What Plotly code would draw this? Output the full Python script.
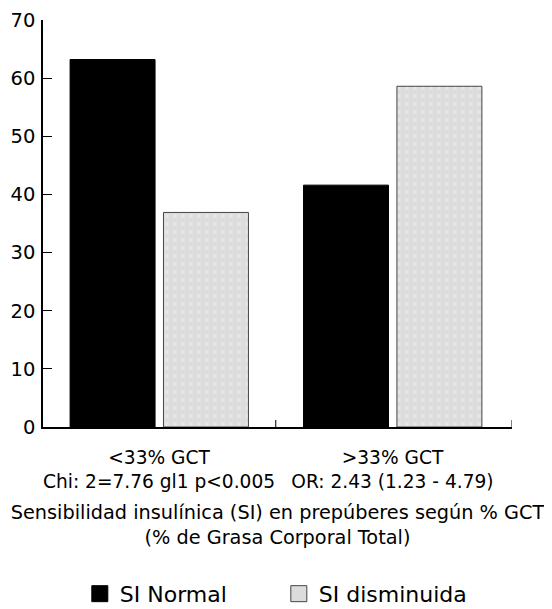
import plotly.graph_objects as go

categories = ["<33% GCT<br>Chi: 2=7.76 gl1 p<0.005", ">33% GCT<br>OR: 2.43 (1.23 - 4.79)"]
si_normal = [63.2, 41.6]
si_disminuida = [36.9, 58.6]
yticks = [0, 10, 20, 30, 40, 50, 60, 70]

FONT = "DejaVu Sans, sans-serif"
xpos = [0, 1]
GRAY = "#dcdcdc"

fig = go.Figure()
fig.add_trace(go.Bar(
    x=xpos, y=si_normal, name="SI Normal", showlegend=False,
    width=0.364, offset=-0.381,
    marker=dict(color="black", line=dict(color="black", width=1)),
))
fig.add_trace(go.Bar(
    x=xpos, y=si_disminuida, name="SI disminuida", showlegend=False,
    width=0.364, offset=0.019,
    marker=dict(color=GRAY, line=dict(color="#444444", width=1),
                pattern=dict(shape=".", fgcolor="#f0f0f0", bgcolor=GRAY, size=8, solidity=0.2)),
))
# legend entries with larger square symbols
fig.add_trace(go.Scatter(
    x=[None], y=[None], mode="markers", name="SI Normal",
    marker=dict(symbol="square", size=16, color="black", line=dict(color="black", width=1)),
))
fig.add_trace(go.Scatter(
    x=[None], y=[None], mode="markers", name="SI disminuida",
    marker=dict(symbol="square", size=16, color=GRAY, line=dict(color="#444444", width=1)),
))

fig.update_layout(
    width=552, height=609,
    margin=dict(l=35, r=48, t=12, b=190),
    paper_bgcolor="white", plot_bgcolor="white",
    barmode="overlay",
    font=dict(family=FONT, size=18, color="black"),
    showlegend=True,
    legend=dict(orientation="h", x=0.0785, xanchor="left",
                yref="container", y=0.038, yanchor="middle",
                font=dict(size=22), itemwidth=30, entrywidth=154,
                itemsizing="trace"),
    xaxis=dict(
        automargin=False,
        range=[-0.497, 1.512], tickmode="array", tickvals=xpos, ticktext=categories,
        showline=True, linecolor="black", linewidth=1.5,
        ticks="", showgrid=False, zeroline=False,
        tickfont=dict(size=18.6), ticklabelstandoff=13,
        title=dict(text="Sensibilidad insulínica (SI) en prepúberes según % GCT<br>(% de Grasa Corporal Total)",
                   font=dict(size=19.3), standoff=14),
    ),
    yaxis=dict(
        automargin=False,
        range=[0, 70], tickmode="array", tickvals=yticks,
        showline=True, linecolor="black", linewidth=1.5,
        ticks="inside", ticklen=9, tickcolor="black", showgrid=False, zeroline=False,
        tickfont=dict(size=19.5), ticklabelstandoff=2, ticklabeloverflow="allow",
    ),
)

# small inward ticks on x axis (category separator and end)
for xv in [0.5, 1.512]:
    fig.add_shape(type="line", xref="x", yref="y", x0=xv, x1=xv, y0=0, y1=1.2,
                  line=dict(color="black", width=1))

fig.write_html("out.html")
